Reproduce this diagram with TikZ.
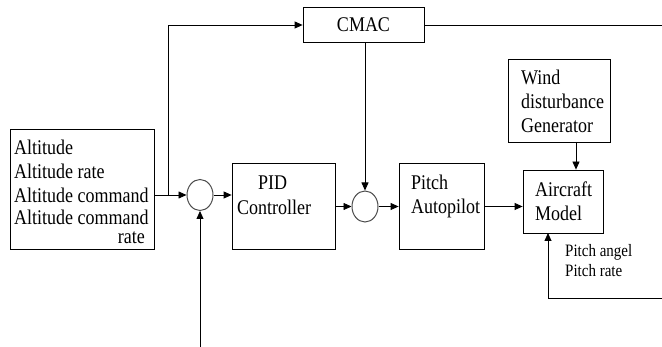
\documentclass[tikz,border=0pt]{standalone}
\usepackage{fontspec}
\usepackage{graphicx}
\setmainfont{Liberation Serif}
\usetikzlibrary{arrows.meta,shapes.geometric}
\newcommand\vstr[1]{\scalebox{1}[1.16]{#1}}
\begin{document}
\begin{tikzpicture}[x=1pt,y=-1pt,
  blk/.style={draw,line width=0.8pt,inner sep=0pt,minimum width=#1},
  sumc/.style={draw=black!70,line width=1pt,ellipse,inner sep=0pt,minimum width=26pt,minimum height=31pt},
  txt/.style={inner sep=0pt,font=\fontsize{18}{22}\selectfont},
  stxt/.style={inner sep=0pt,font=\fontsize{15}{18}\selectfont},
  arr/.style={line width=0.8pt,-{Triangle[length=8pt,width=7pt]}},
  ln/.style={line width=0.8pt}]
\useasboundingbox (0,0) rectangle (662,347);
% blocks
\node[blk=144pt,minimum height=120pt] (in) at (82,189) {};
\node[blk=121pt,minimum height=35pt] (cmac) at (363.5,25) {};
\node[blk=103pt,minimum height=86pt] (pid) at (283.5,206) {};
\node[blk=85pt,minimum height=86pt] (pitch) at (441.5,206) {};
\node[blk=80pt,minimum height=63pt] (air) at (563,201.5) {};
\node[blk=102pt,minimum height=83pt] (wind) at (559,100.5) {};
\node[sumc] (c1) at (200,195) {};
\node[sumc] (c2) at (365,206.5) {};
% texts
\node[txt,anchor=base west] (t1) at (14,155) {\vstr{Altitude}};
\node[txt,anchor=base west] (t2) at (14,179) {\vstr{Altitude rate}};
\node[txt,anchor=base west] (t3) at (14,203) {\vstr{Altitude command}};
\node[txt,anchor=base west] (t4) at (14,225) {\vstr{Altitude command}};
\node[txt,anchor=base east] (t5) at (145,244) {\vstr{rate}};
\node[txt,anchor=base] (tc) at (363.5,32) {\vstr{CMAC}};
\node[txt,anchor=base west] (tp1) at (258,190) {\vstr{PID}};
\node[txt,anchor=base west] (tp2) at (237,215) {\vstr{Controller}};
\node[txt,anchor=base west] (ta1) at (411,190) {\vstr{Pitch}};
\node[txt,anchor=base west] (ta2) at (411,214) {\vstr{Autopilot}};
\node[txt,anchor=base west] (tm1) at (535,197) {\vstr{Aircraft}};
\node[txt,anchor=base west] (tm2) at (535,221) {\vstr{Model}};
\node[txt,anchor=base west] (tw1) at (521,85) {\vstr{Wind}};
\node[txt,anchor=base west] (tw2) at (521,109) {\vstr{disturbance}};
\node[txt,anchor=base west] (tw3) at (521,133) {\vstr{Generator}};
\node[stxt,anchor=base west] (tf1) at (565,257) {\vstr{Pitch angel}};
\node[stxt,anchor=base west] (tf2) at (565,277) {\vstr{Pitch rate}};
% coordinates
\coordinate (j1) at (168,195);
\coordinate (r1) at (662,25);
\coordinate (w1) at (576,142);
\coordinate (fb) at (662,298);
\coordinate (fa) at (548,233);
\coordinate (b1) at (200,347);
% connectors
\draw[arr] (in.east |- c1) -- (c1.west);
\draw[arr] (j1) |- (cmac.west);
\draw[ln] (cmac.east) -- (r1);
\draw[arr] (cmac.south -| c2) -- (c2.north);
\draw[arr] (c1.east) -- (pid.west |- c1);
\draw[arr] (pid.east |- c2) -- (c2.west);
\draw[arr] (c2.east) -- (pitch.west |- c2);
\draw[arr] (pitch.east |- c2) -- (air.west |- c2);
\draw[arr] (w1) -- (w1 |- air.north);
\draw[arr] (fb) -| (fa);
\draw[arr] (b1) -- (c1.south);
\end{tikzpicture}
\end{document}
